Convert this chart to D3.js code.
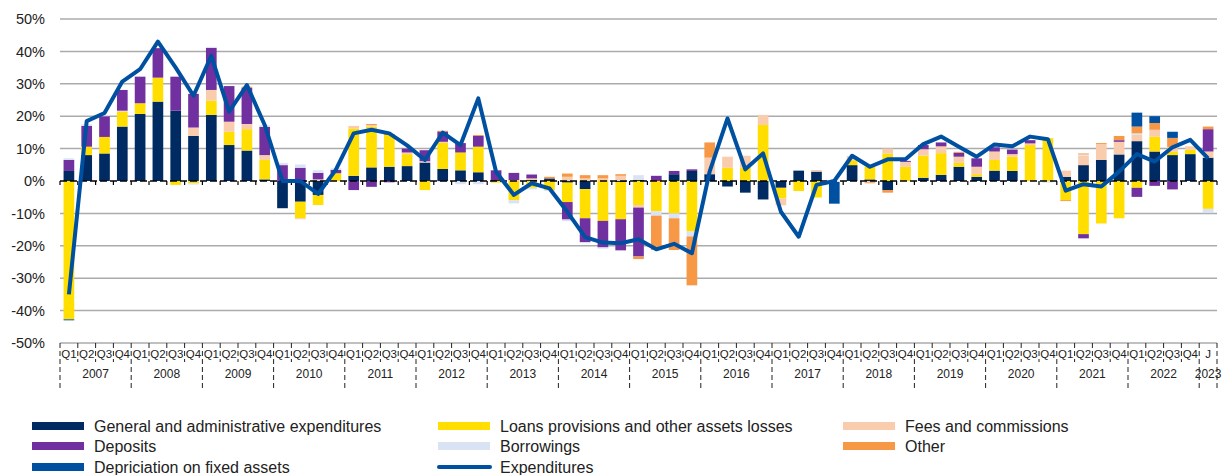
<!DOCTYPE html>
<html>
<head>
<meta charset="utf-8">
<script src="https://cdn.jsdelivr.net/npm/d3@7"></script>
<style>
  body { margin: 0; background: #fff; }
  svg { font-family: "Liberation Sans", Arial, sans-serif; }
</style>
</head>
<body>
<svg id="chart" width="1231" height="475"></svg>
<script>
const years = ["2007","2008","2009","2010","2011","2012","2013","2014","2015","2016","2017","2018","2019","2020","2021","2022","2023"];
const quarters = ["Q1","Q2","Q3","Q4"];

const general = [3.1,8.0,8.5,16.8,20.7,24.5,21.7,13.9,20.4,11.1,9.4,0.5,-8.4,-6.4,-4.3,0,
  1.6,4.2,4.4,4.6,5.7,3.7,3.3,2.7,0.3,0,0.3,0.8,-0.5,-2.5,0,-0.3,
  0.3,0,2.1,3.1,2.1,-1.7,-3.6,-5.7,-2.1,3.2,2.9,0,4.9,0.5,-2.8,0,
  1.0,1.9,4.4,1.3,3.2,3.1,0,0,1.3,4.9,6.5,8.2,12.3,9.1,8.0,8.3,7.2];
const loans = [-42.7,2.6,5.1,4.6,3.3,7.4,-1.2,-0.7,4.4,4.1,6.6,6.0,0,-5.1,-3.1,2.4,
  14.6,12.6,9.8,3.7,-2.8,8.1,5.5,7.9,-0.5,-5.9,-2.1,-2.8,-6.0,-9.0,-12.3,-11.5,
  -7.4,-9.3,-10.0,-15.6,0,4.1,4.1,17.3,-3.3,-3.1,-5.1,0,1.5,3.9,8.5,4.4,
  6.8,6.7,1.2,0.8,3.3,4.4,11.1,13.2,-5.9,-16.4,-13.1,-11.5,-2.1,4.6,1.0,1.4,-8.6];
const fees = [0,0,0,0.3,0,0,0,2.6,3.3,3.1,1.6,1.5,0,-0.3,0.5,0,
  0.8,0.5,0,0.5,0.4,0.3,0,0,0,0.3,0.5,0,1.3,0.8,0.8,1.6,
  -0.8,0,0,0,5.1,3.4,3.7,3.1,-2.1,0,0.5,0,1.3,-0.4,1.5,1.5,
  2.0,2.1,1.9,2.3,2.6,0.8,0.5,0,1.9,3.0,4.9,3.9,1.9,2.1,1.5,1.0,1.9];
const deposits = [3.4,6.4,6.4,6.4,8.2,9.1,10.5,10.4,13.0,11.0,11.2,8.7,4.9,4.1,2.0,1.0,
  -2.8,-1.8,-0.4,1.2,3.4,3.2,2.9,3.3,3.0,2.2,1.2,0,-5.4,-7.4,-8.2,-9.6,
  -15.1,1.6,1.0,0.5,0,0,0,0,0,0,0,0,0,0,0,0.3,
  1.3,1.2,1.2,2.6,1.3,1.4,1.0,0,0,-1.3,0,0.5,-2.8,-1.5,-2.6,0,6.9];
const borrowings = [0.5,0.5,0.3,0,0,0,0,-0.4,0.3,0,0,0.5,0.7,1.0,0.8,0.5,
  0,0,0,0,0,-0.3,-1.0,-1.0,0,-1.0,-0.5,-0.3,-0.5,-0.3,-0.4,0,
  1.5,-1.4,-1.5,-1.5,0,0,0,0,0,0,0,-0.3,0,0,0,0,
  0,0,0,0,0,0,0,-0.5,0,0.3,0,0,0.5,0,0,0,-1.3];
const other = [0,0,0,0,0,0,0,0,0,0,0.3,0,0,0,0,0,
  0,0.3,0.3,0,0,0.2,0,0.3,0,0,0,0.5,1.0,1.0,1.0,0.5,
  -0.8,-10.6,-9.8,-15.1,4.7,0,0,0,0,0,0,0,0,-0.3,-0.8,0,
  0,0,0.3,0,0,0,0,0,-0.3,0.3,0.3,1.3,2.1,2.1,2.8,0,0.8];
const depreciation = [-0.3,0,0,0,0,0,0,0,0,0,0,0,0,0,0,0,
  0,0,0,0,0,0,0,0,0,0,0,0,0,0,0,0,
  0,0,0,0,0,0,0,0,0,0,0,-6.7,0,0,0,0,
  0,0,0,0,0,0,0,0,0,0,0,0,4.3,2.1,1.9,0,0];
const expenditures = [-35,18.5,21,30.7,34.5,43,35,26.3,38.6,21.4,29.6,17.3,0,0,-4,3.5,
  14.7,15.8,14.7,11,6.5,14.9,11.1,25.5,2.8,-4.3,-0.7,-2.3,-9.5,-17.3,-19.0,-19.2,
  -18.0,-21.1,-19.4,-22.3,3,19.3,3.6,8.5,-9.5,-17.2,-1.2,0,7.8,4.4,6.7,6.7,
  11.4,13.7,10.6,7.5,11.3,10.7,13.7,12.9,-3.0,-1.0,-1.7,2.9,8.3,6.0,10.4,12.7,7.0];

const yTicks = [-50,-40,-30,-20,-10,0,10,20,30,40,50];

// series in excel order, legend is filled row by row
let series = [
  {key: "general", name: "General and administrative expenditures", color: "#002B62", values: general},
  {key: "loans", name: "Loans provisions and other assets losses", color: "#FFDE00", values: loans},
  {key: "fees", name: "Fees and commissions", color: "#F8CCAD", values: fees},
  {key: "deposits", name: "Deposits", color: "#7030A0", values: deposits},
  {key: "borrowings", name: "Borrowings", color: "#D9E3F4", values: borrowings},
  {key: "other", name: "Other", color: "#F79847", values: other},
  {key: "depreciation", name: "Depriciation on fixed assets", color: "#0050A2", values: depreciation}
];
const lineColor = "#0050A2";

// category labels
let cats = [];
years.forEach(function(y) {
  if (y == "2023") cats.push({year: y, q: "J"});
  else quarters.forEach(function(q) { cats.push({year: y, q: q}); });
});
cats.forEach(function(c, i) { c.id = i; });

let rows = cats.map(function(c, i) {
  let r = {id: i};
  series.forEach(function(s) { r[s.key] = s.values[i]; });
  return r;
});

const svg = d3.select("#chart");
const pLeft = 60, pRight = 1217, pTop = 19, pBottom = 343;

const x = d3.scaleBand().domain(cats.map(c => c.id)).range([pLeft, pRight]).paddingInner(0.4).paddingOuter(0.2);
const step = x.step();
const y = d3.scaleLinear().domain([-50, 50]).range([pBottom, pTop]);

// grid
svg.append("g").selectAll("line")
  .data(yTicks.filter(t => t != 0))
  .join("line")
  .attr("x1", pLeft).attr("x2", pRight)
  .attr("y1", d => y(d)).attr("y2", d => y(d))
  .attr("stroke", "#ababab").attr("stroke-width", 1.5);

// y axis labels
const yAxis = d3.axisLeft(y).tickValues(yTicks).tickFormat(d => d + "%").tickSize(0).tickPadding(15);
let ya = svg.append("g").attr("transform", "translate(" + pLeft + ",0)").call(yAxis);
ya.select(".domain").remove();
ya.selectAll("text").attr("font-size", 14.5).attr("fill", "#222").attr("font-family", "Liberation Sans, Arial, sans-serif");

// bars
const stack = d3.stack().keys(series.map(s => s.key)).offset(d3.stackOffsetDiverging);
const layers = stack(rows);
svg.append("g").selectAll("g")
  .data(layers)
  .join("g")
  .attr("fill", (d, i) => series[i].color)
  .selectAll("rect")
  .data(d => d)
  .join("rect")
  .attr("x", d => x(d.data.id))
  .attr("width", x.bandwidth())
  .attr("y", d => y(Math.max(d[0], d[1])))
  .attr("height", d => Math.abs(y(d[0]) - y(d[1])));

// zero axis, dashed with ticks
svg.append("line")
  .attr("x1", pLeft).attr("x2", pRight)
  .attr("y1", y(0)).attr("y2", y(0))
  .attr("stroke", "#000").attr("stroke-width", 1.5)
  .attr("stroke-dasharray", "7,3");
svg.append("g").selectAll("line")
  .data(d3.range(cats.length + 1))
  .join("line")
  .attr("x1", d => pLeft + d * step).attr("x2", d => pLeft + d * step)
  .attr("y1", y(0)).attr("y2", y(0) + 4)
  .attr("stroke", "#000").attr("stroke-width", 1.2);

// line
const line = d3.line()
  .x((d, i) => x(i) + x.bandwidth() / 2)
  .y(d => y(d));
svg.append("path")
  .datum(expenditures)
  .attr("d", line)
  .attr("fill", "none")
  .attr("stroke", lineColor)
  .attr("stroke-width", 4)
  .attr("stroke-linejoin", "round");

// bottom category axis
let xa = svg.append("g");
xa.selectAll("line.sep")
  .data(d3.range(cats.length + 1))
  .join("line")
  .attr("class", "sep")
  .attr("x1", d => pLeft + d * step).attr("x2", d => pLeft + d * step)
  .attr("y1", pBottom)
  .attr("y2", d => (d % 4 == 0 || d == cats.length) ? 388 : 362)
  .attr("stroke", "#222").attr("stroke-width", 1)
  .attr("stroke-dasharray", "5,3");
xa.selectAll("text.q")
  .data(cats)
  .join("text")
  .attr("class", "q")
  .attr("x", d => x(d.id) + x.bandwidth() / 2)
  .attr("y", 358)
  .attr("text-anchor", "middle")
  .attr("font-size", 11.5)
  .attr("fill", "#222")
  .text(d => d.q);
xa.selectAll("text.yr")
  .data(years)
  .join("text")
  .attr("class", "yr")
  .attr("x", function(d, i) {
    let n = (d == "2023") ? 1 : 4;
    return pLeft + step * (i * 4 + n / 2);
  })
  .attr("y", 378)
  .attr("text-anchor", "middle")
  .attr("font-size", 12)
  .attr("fill", "#222")
  .text(d => d);

// legend
const legendCols = [32, 438, 843];
const legendRows = [426, 446, 467];
let items = series.map(s => ({name: s.name, color: s.color, type: "bar"}));
items.push({name: "Expenditures", color: lineColor, type: "line"});
let lg = svg.append("g").selectAll("g")
  .data(items)
  .join("g")
  .attr("transform", (d, i) => "translate(" + legendCols[i % 3] + "," + legendRows[Math.floor(i / 3)] + ")");
lg.filter(d => d.type == "bar").append("rect")
  .attr("x", 0).attr("y", -4).attr("width", 52).attr("height", 8)
  .attr("fill", d => d.color);
lg.filter(d => d.type == "line").append("line")
  .attr("x1", 1).attr("x2", 52).attr("y1", 0).attr("y2", 0)
  .attr("stroke", d => d.color).attr("stroke-width", 4).attr("stroke-linecap", "round");
lg.append("text")
  .attr("x", 62).attr("y", 5.5)
  .attr("font-size", 16)
  .attr("fill", "#222")
  .text(d => d.name);
</script>
</body>
</html>
